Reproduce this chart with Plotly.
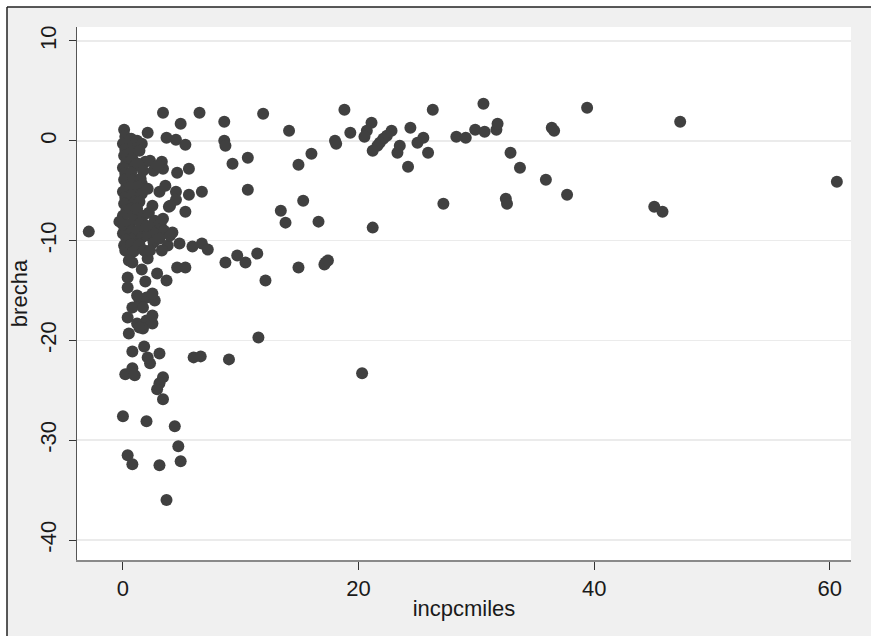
import plotly.graph_objects as go

# incpcmiles (x) and brecha (y)
incpcmiles = [
    # right / middle region
    11.9, 18.8, 14.1, 14.9, 16.0, 18.0, 18.1, 19.3, 21.1, 20.7, 20.5, 22.8, 22.4, 22.1,
    21.8, 21.6, 21.2, 24.4, 23.5, 23.3, 25.5, 25.0, 25.9, 24.2, 26.3, 28.3, 29.1, 29.9,
    30.7, 31.7, 31.8, 30.6, 32.9, 33.7, 35.9, 36.4, 36.6, 32.5, 32.6, 37.7, 39.4, 47.3,
    45.1, 45.8, 60.6, 27.2, 21.2, 15.3, 13.4, 13.8, 16.6, 11.4, 12.1, 14.9, 17.2, 17.1,
    17.4, 11.5, 20.3,
    # middle region
    6.5, 3.4, 4.9, 8.6, 2.1, 3.7, 4.5, 5.3, 8.6, 8.7, 10.6, 9.3, 10.6, 1.9, 3.3, 3.4,
    4.6, 5.6, 1.6, 3.1, 4.5, 5.6, 6.7, 3.9, 5.3, 4.5, 4.0, 4.2, 4.8, 5.9, 6.7, 7.2,
    8.7, 9.7, 10.4, 0.8, 2.1, 1.6, 0.4, 1.9, 2.9, 3.7, 4.6, 5.3, 0.4, 0.8, 1.4, 2.0,
    2.7, 1.7, 1.2, 2.5, 0.4, 1.2, 2.0, 2.5, 1.7, 0.5, 1.4, 2.5, 0.8, 1.8, 2.3, 3.1,
    2.1, 6.0, 6.6, 9.0, 0.2, 0.8, 1.0, 3.4, 3.1, 2.9, 3.4, 0.0, 2.0, 4.4, 4.7, 0.4,
    0.8, 3.1, 4.9, 3.7, -2.9,
    # dense left cluster
    0.1, 0.2, 0.0, 0.2, 0.1, 0.3, 0.0, 0.2, 0.1, 0.3, 0.0, 0.2, 0.1, 0.3, 0.0, -0.3,
    0.2, 0.0, 0.3, 0.1, 0.2, 0.0,
    0.7, 0.9, 0.6, 0.8, 1.0, 0.7, 0.9, 0.6, 0.8, 1.0, 0.7, 0.9, 0.6, 0.8, 1.0, 0.7,
    0.9, 0.5,
    1.2, 1.6, 1.4, 1.3, 1.7, 1.5, 1.3, 1.6, 1.4, 1.2, 1.7, 1.5, 1.3, 1.6, 1.4, 1.8,
    2.3, 2.6, 2.1, 2.5, 2.2, 2.7, 2.4, 2.1, 2.6, 2.3, 2.8, 2.0,
    3.2, 3.5, 3.1, 3.8, 3.3, 3.0, 3.6, 3.4, 4.0,
]
brecha = [
    2.7, 3.1, 1.0, -2.4, -1.3, 0.0, -0.3, 0.8, 1.8, 1.0, 0.4, 1.0, 0.5, 0.2,
    -0.2, -0.5, -1.0, 1.3, -0.5, -1.2, 0.3, -0.2, -1.2, -2.6, 3.1, 0.4, 0.3, 1.1,
    0.9, 1.1, 1.7, 3.7, -1.2, -2.7, -3.9, 1.3, 1.0, -5.8, -6.3, -5.4, 3.3, 1.9,
    -6.6, -7.1, -4.1, -6.3, -8.7, -6.0, -7.0, -8.2, -8.1, -11.3, -14.0, -12.7, -12.2, -12.4,
    -12.0, -19.7, -23.3,
    2.8, 2.8, 1.7, 1.9, 0.8, 0.3, 0.1, -0.4, 0.0, -0.5, -1.7, -2.3, -4.9, -2.1, -2.1, -2.8,
    -3.2, -2.8, -4.3, -5.1, -5.1, -5.4, -5.1, -6.6, -7.1, -5.9, -6.5, -9.2, -10.3, -10.6, -10.3, -10.9,
    -12.2, -11.5, -12.2, -12.2, -11.8, -12.9, -13.7, -14.1, -13.3, -14.0, -12.7, -12.7, -14.7, -16.7, -16.0, -15.7,
    -16.0, -16.7, -15.5, -15.3, -17.7, -18.3, -18.0, -18.3, -18.8, -19.3, -18.7, -17.5, -21.1, -20.6, -22.3, -21.3,
    -21.7, -21.7, -21.6, -21.9, -23.4, -22.8, -23.5, -23.7, -24.3, -24.9, -25.9, -27.6, -28.1, -28.6, -30.6, -31.5,
    -32.4, -32.5, -32.1, -36.0, -9.1,
    1.1, 0.4, -0.3, -0.9, -1.5, -2.1, -2.7, -3.3, -3.9, -4.5, -5.1, -5.7, -6.3, -6.9, -7.5, -8.1,
    -8.7, -9.3, -9.9, -10.5, -11.0, -8.4,
    0.2, -0.5, -1.2, -1.8, -2.5, -3.2, -3.9, -4.6, -5.4, -6.1, -6.8, -7.5, -8.3, -9.0, -9.7, -10.4,
    -11.1, -12.0,
    0.0, -0.3, -1.0, -2.3, -3.0, -3.8, -4.6, -5.3, -6.1, -6.8, -7.5, -8.2, -9.0, -9.7, -10.4, -11.0,
    -2.0, -3.0, -4.8, -6.5, -7.2, -8.0, -8.8, -9.5, -10.2, -11.0, -9.2, -8.5,
    -8.3, -9.0, -9.8, -10.5, -11.0, -2.5, -4.5, -7.8, -9.5,
]

x_ticks = [0, 20, 40, 60]
y_ticks = [-40, -30, -20, -10, 0, 10]

FONT = "Liberation Sans, Arial, sans-serif"

fig = go.Figure()
fig.add_trace(go.Scatter(
    x=incpcmiles, y=brecha, mode="markers",
    marker=dict(size=12, color="#404040", line=dict(width=0)),
    showlegend=False, hoverinfo="skip",
))

W, H = 871, 636
L, R, T, B = 77, 20, 27, 76
PW, PH = W - L - R, H - T - B


def px_x(px):
    return (px - L) / PW


def px_y(py):
    return (H - B - py) / PH


EDGE = 7  # the gray graph region starts 7px from the top / left edge

fig.update_layout(
    width=W, height=H,
    margin=dict(l=L, r=R, t=T, b=B, pad=0, autoexpand=False),
    paper_bgcolor="#f0f0f0",
    plot_bgcolor="white",
    hovermode=False,
    font=dict(family=FONT, color="#1a1a1a"),
    shapes=[
        dict(type="rect", xref="paper", yref="paper", x0=px_x(-5), x1=px_x(W + 5),
             y0=px_y(EDGE), y1=px_y(-5), fillcolor="white", line=dict(width=0), layer="above"),
        dict(type="rect", xref="paper", yref="paper", x0=px_x(-5), x1=px_x(EDGE),
             y0=px_y(H + 5), y1=px_y(-5), fillcolor="white", line=dict(width=0), layer="above"),
        dict(type="line", xref="paper", yref="paper", x0=px_x(EDGE), x1=px_x(W + 5),
             y0=px_y(EDGE), y1=px_y(EDGE), line=dict(color="#222222", width=1.5), layer="above"),
        dict(type="line", xref="paper", yref="paper", x0=px_x(EDGE), x1=px_x(EDGE),
             y0=px_y(H + 5), y1=px_y(EDGE), line=dict(color="#222222", width=1.5), layer="above"),
    ],
    xaxis=dict(
        range=[-3.9, 61.8], tickvals=x_ticks, ticktext=[str(v) for v in x_ticks],
        showgrid=False, zeroline=False, automargin=False,
        showline=True, linecolor="#8a8a8a", linewidth=2,
        ticks="outside", ticklen=8, tickcolor="#333333", tickwidth=1,
        tickfont=dict(size=22, family=FONT, color="#1a1a1a"),
        title=dict(text="incpcmiles", font=dict(size=22, family=FONT, color="#1a1a1a"), standoff=0),
    ),
    yaxis=dict(
        range=[-42.0, 11.4], tickvals=y_ticks, ticktext=[str(v) for v in y_ticks],
        showgrid=True, gridcolor="#ebebeb", gridwidth=1.5, zeroline=False, automargin=False,
        showline=True, linecolor="#555555", linewidth=1,
        ticks="outside", ticklen=7, tickcolor="#333333", tickwidth=1,
        tickangle=-90, ticklabelstandoff=4,
        tickfont=dict(size=22, family=FONT, color="#1a1a1a"),
        title=dict(text="brecha", font=dict(size=22, family=FONT, color="#1a1a1a"), standoff=2),
    ),
)

fig.write_html(
    "out.html",
    config={"displayModeBar": False, "staticPlot": True},
    post_script=(
        "document.body.style.margin='0';"
        "document.documentElement.style.overflow='hidden';"
        "document.body.style.overflow='hidden';"
    ),
)
